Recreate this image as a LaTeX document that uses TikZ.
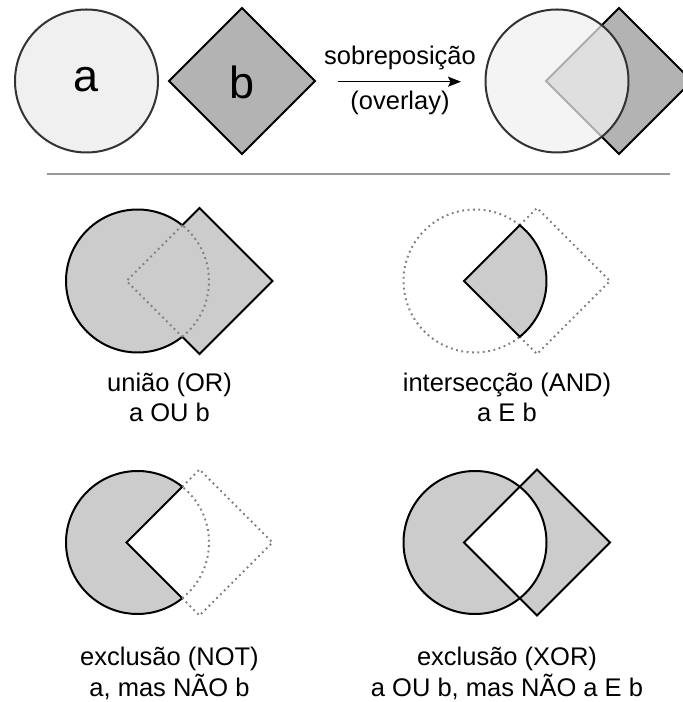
\documentclass[tikz,border=0pt]{standalone}
\usepackage{fontspec}
\setmainfont{Liberation Sans}
\usetikzlibrary{arrows.meta}
\definecolor{fillA}{HTML}{F0F0F0}
\definecolor{fillB}{HTML}{B3B3B3}
\definecolor{fillC}{HTML}{CCCCCC}
\definecolor{strokeA}{HTML}{333333}
\definecolor{dotgray}{HTML}{808080}
\definecolor{sepgray}{HTML}{999999}
\newcommand\lblfont{\fontsize{25.5}{30}\selectfont}
\newcommand\bigfont{\fontsize{45}{50}\selectfont}
\tikzset{
  shapefill/.style={fill=fillC, draw=black, line width=2pt, line join=miter},
  outline/.style={draw=black, line width=2pt},
  dotline/.style={draw=dotgray, line width=2pt, dash pattern=on 1.8pt off 3.6pt},
  lbl/.style={anchor=base, inner sep=0pt, font=\lblfont},
}
\begin{document}
\begin{tikzpicture}[x=1pt,y=1pt]
\useasboundingbox (0,0) rectangle (683,702);
\fill[white] (0,0) rectangle (683,702);

% ---- top row ----
\draw[fill=fillA, draw=strokeA, line width=2pt] (86.5,621) circle[radius=71.5];
\node[inner sep=0pt, font=\bigfont] (la) at (86.5,622) {a};
\draw[fill=fillB, outline] (242,694) -- (315,621) -- (242,548) -- (169,621) -- cycle;
\node[inner sep=0pt, font=\bigfont] (lb) at (242,620) {b};

\coordinate (arrS) at (338,620.3);
\coordinate (arrE) at (461,620.3);
\draw[line width=1.5pt, -{Stealth[length=13pt,width=10pt,inset=2.5pt]}] (arrS) -- (arrE);
\node[lbl] (lsob) at (400,637) {sobreposição};
\node[lbl] (lovl) at (400,592) {(overlay)};

\begin{scope}[shift={(557,621)}]
  \draw[fill=fillB, outline] (62,73) -- (135,0) -- (62,-73) -- (-11,0) -- cycle;
  \draw[fill=fillA, fill opacity=0.72, draw=strokeA, line width=2pt] (0,0) circle[radius=71.5];
\end{scope}

% separator
\draw[sepgray, line width=1.6pt] (47,528) -- (670,528);

% ---- union ----
\begin{scope}[shift={(137.5,421)}]
  \filldraw[shapefill] (44.76,55.76) arc[start angle=51.25, end angle=308.75, radius=71.5]
     -- (62,-73) -- (135,0) -- (62,73) -- cycle;
  \draw[dotline] (44.76,55.76) -- (-11,0) -- (44.76,-55.76);
  \draw[dotline] (44.76,-55.76) arc[start angle=-51.25, end angle=51.25, radius=71.5];
\end{scope}
\node[lbl] (lor1) at (169.5,310) {união (OR)};
\node[lbl] (lor2) at (169.5,280) {a OU b};

% ---- intersection ----
\begin{scope}[shift={(475,421)}]
  \draw[dotline] (44.76,55.76) arc[start angle=51.25, end angle=308.75, radius=71.5];
  \draw[dotline] (44.76,55.76) -- (62,73) -- (135,0) -- (62,-73) -- (44.76,-55.76);
  \filldraw[shapefill] (-11,0) -- (44.76,55.76) arc[start angle=51.25, end angle=-51.25, radius=71.5] -- cycle;
\end{scope}
\node[lbl] (land1) at (507,310) {intersecção (AND)};
\node[lbl] (land2) at (507,280) {a E b};

% ---- NOT ----
\begin{scope}[shift={(137.5,159.5)}]
  \filldraw[shapefill] (44.76,55.76) arc[start angle=51.25, end angle=308.75, radius=71.5]
     -- (-11,0) -- cycle;
  \draw[dotline] (44.76,-55.76) arc[start angle=-51.25, end angle=51.25, radius=71.5];
  \draw[dotline] (44.76,55.76) -- (62,73) -- (135,0) -- (62,-73) -- (44.76,-55.76);
\end{scope}
\node[lbl] (lnot1) at (169.5,36) {exclusão (NOT)};
\node[lbl] (lnot2) at (169.5,5.5) {a, mas NÃO b};

% ---- XOR ----
\begin{scope}[shift={(475,159.5)}]
  \fill[fillC, even odd rule] (0,0) circle[radius=71.5]
     (62,73) -- (135,0) -- (62,-73) -- (-11,0) -- cycle;
  \draw[outline] (0,0) circle[radius=71.5];
  \draw[outline] (62,73) -- (135,0) -- (62,-73) -- (-11,0) -- cycle;
\end{scope}
\node[lbl] (lxor1) at (507,36) {exclusão (XOR)};
\node[lbl] (lxor2) at (507,5.5) {a OU b, mas NÃO a E b};
\end{tikzpicture}
\end{document}
